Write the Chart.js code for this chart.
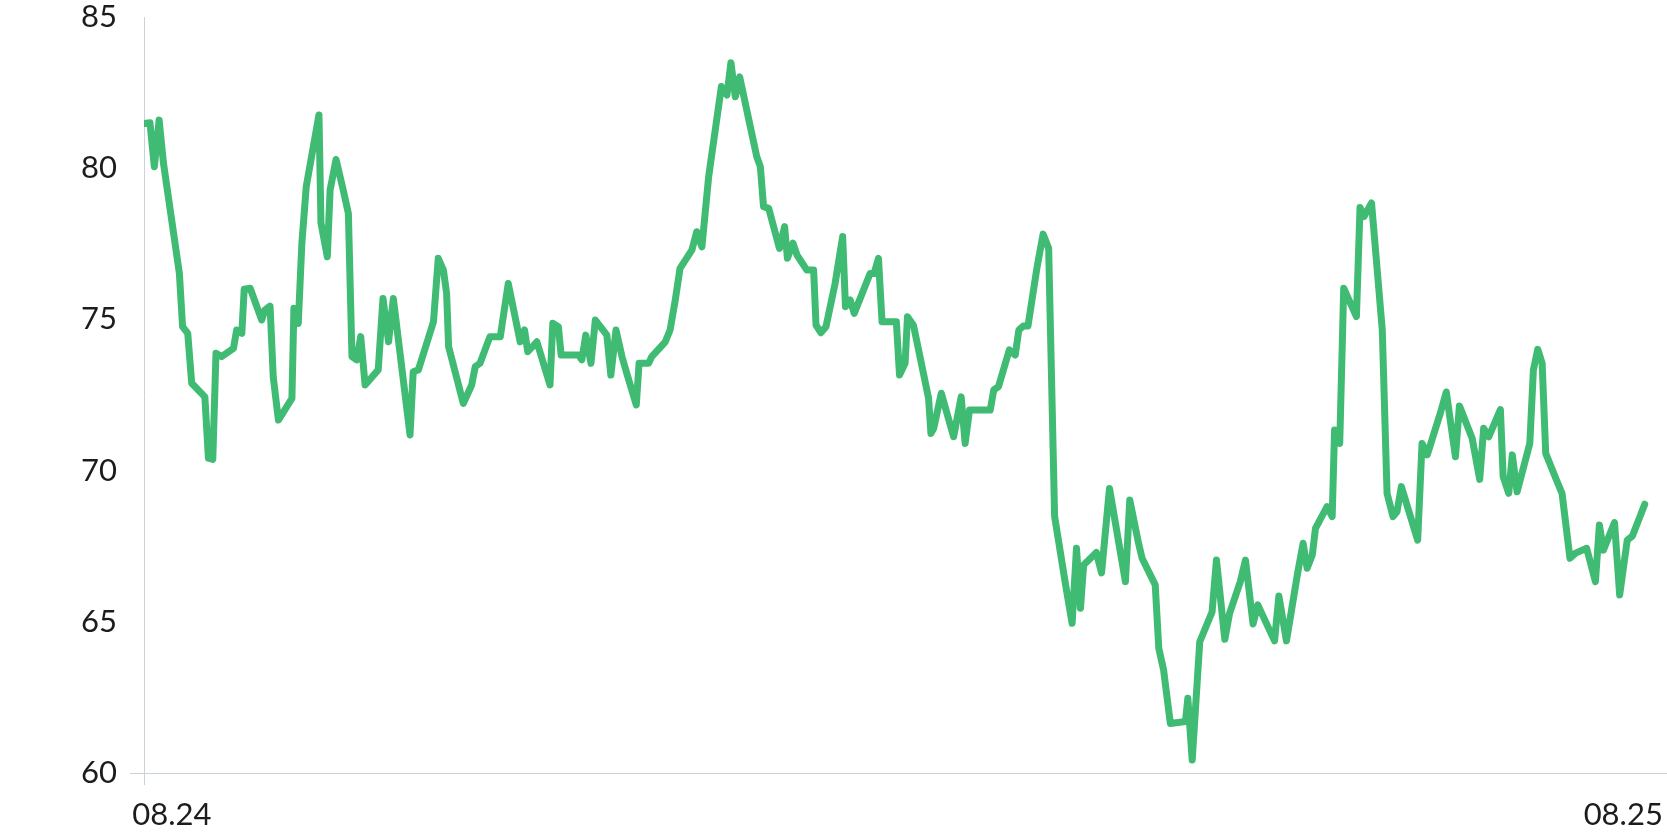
<!DOCTYPE html>
<html lang="en">
<head>
  <meta charset="UTF-8" />
  <title>Price chart</title>
  <script src="https://cdn.jsdelivr.net/npm/chart.js"></script>
  <style>
    body {
      margin: 0;
      padding: 0;
      background: #ffffff;
    }

    .wrap {
      width: 1667px;
      height: 833px;
    }
  </style>
</head>
<body>
  <div class="wrap">
    <canvas id="priceChart"></canvas>
  </div>

  <script>
    // days since start of the series, and the value on that day
    const days = [
      0, 1.5, 2.6, 3.8, 4.9, 8.9, 9.7, 11.0, 12.0, 15.3,
      16.2, 17.3, 18.1, 19.5, 22.5, 23.3, 24.6, 25.2, 26.7, 29.6,
      30.4, 31.7, 32.5, 33.8, 37.2, 37.7, 38.8, 39.7, 40.8, 44.0,
      44.5, 46.1, 46.8, 48.3, 50.1, 51.4, 52.3, 53.5, 54.5, 55.6,
      58.9, 60.1, 61.5, 62.7, 66.9, 67.7, 69.0, 72.8, 74.0, 75.3,
      76.1, 76.6, 80.3, 82.4, 83.3, 84.5, 87.0, 89.6, 91.6, 94.6,
      95.7, 96.5, 98.8, 102.1, 102.8, 104.2, 104.9, 109.3, 110.1, 111.1,
      112.4, 113.5, 116.4, 117.4, 118.7, 120.2, 121.4, 123.8, 124.5, 126.9,
      127.7, 131.1, 132.3, 133.6, 134.8, 137.8, 139.0, 140.3, 142.0, 145.2,
      146.6, 147.6, 148.7, 149.8, 152.3, 154.1, 155.0, 155.8, 157.1, 159.8,
      161.1, 161.8, 163.2, 164.2, 166.7, 168.4, 169.0, 170.2, 171.5, 173.8,
      175.7, 176.4, 177.6, 178.6, 182.6, 183.6, 184.7, 185.6, 189.2, 190.0,
      191.4, 192.0, 193.5, 197.3, 197.9, 198.6, 200.5, 203.6, 205.5, 206.5,
      207.6, 212.8, 213.7, 214.9, 217.6, 219.1, 220.0, 221.1, 222.3, 224.6,
      226.1, 227.5, 229.0, 231.7, 233.4, 234.5, 235.5, 236.3, 239.5, 240.8,
      242.8, 246.8, 247.9, 250.1, 251.0, 254.3, 255.2, 256.4, 258.1, 261.9,
      262.5, 263.6, 265.5, 268.6, 269.7, 271.8, 273.0, 275.7, 277.0, 278.9,
      280.1, 284.3, 285.4, 287.3, 290.1, 291.5, 292.5, 293.8, 294.6, 297.5,
      298.8, 299.4, 300.7, 301.7, 304.9, 305.8, 306.8, 308.7, 311.4, 312.6,
      314.1, 315.1, 316.2, 320.3, 321.4, 322.7, 326.0, 327.5, 329.8, 330.8,
      334.0, 335.9, 336.9, 338.2, 341.1, 341.8, 343.2, 344.1, 345.3, 348.5,
      349.4, 350.5, 351.6, 352.5, 355.2, 356.6, 358.6, 360.0, 362.8, 365.0,
      366.0, 367.0, 369.8, 371.1, 373.0, 374.3, 377.4
    ];

    const values = [
      81.48, 81.50, 80.05, 81.59, 80.16, 76.52, 74.76, 74.54, 72.89, 72.44,
      70.41, 70.37, 73.88, 73.77, 74.04, 74.65, 74.54, 76.00, 76.03, 74.98,
      75.31, 75.44, 73.10, 71.67, 72.39, 75.37, 74.87, 77.52, 79.39, 81.76,
      78.19, 77.07, 79.28, 80.29, 79.28, 78.50, 73.77, 73.66, 74.43, 72.83,
      73.33, 75.69, 74.26, 75.69, 71.18, 73.27, 73.33, 74.92, 77.02, 76.63,
      75.86, 74.10, 72.22, 72.83, 73.44, 73.55, 74.43, 74.43, 76.19, 74.26,
      74.65, 73.93, 74.26, 72.83, 74.87, 74.76, 73.82, 73.82, 73.66, 74.48,
      73.55, 74.98, 74.48, 73.16, 74.65, 73.77, 73.22, 72.17, 73.55, 73.55,
      73.77, 74.26, 74.65, 75.64, 76.69, 77.30, 77.90, 77.40, 79.72, 82.70,
      82.42, 83.49, 82.36, 83.02, 81.48, 80.38, 80.05, 78.73, 78.67, 77.35,
      78.07, 77.02, 77.52, 77.13, 76.63, 76.63, 74.81, 74.56, 74.76, 76.19,
      77.74, 75.42, 75.64, 75.20, 76.52, 76.52, 77.02, 74.92, 74.92, 73.16,
      73.55, 75.09, 74.81, 72.39, 71.23, 71.40, 72.56, 71.12, 72.44, 70.90,
      72.00, 72.00, 72.67, 72.78, 73.99, 73.82, 74.65, 74.78, 74.78, 76.74,
      77.82, 77.35, 68.48, 66.27, 64.95, 67.43, 65.45, 66.88, 67.29, 66.62,
      69.41, 66.33, 69.03, 67.60, 67.10, 66.22, 64.12, 63.41, 61.64, 61.70,
      62.47, 60.43, 64.34, 65.33, 67.04, 64.42, 65.28, 66.33, 67.04, 64.93,
      65.56, 64.37, 65.85, 64.37, 66.60, 67.60, 66.77, 67.21, 68.09, 68.81,
      68.48, 71.34, 70.90, 76.03, 75.09, 78.70, 78.40, 78.85, 74.65, 69.25,
      68.48, 68.64, 69.47, 67.70, 70.90, 70.52, 71.90, 72.60, 70.46, 72.14,
      71.07, 69.71, 71.40, 71.12, 72.02, 69.80, 69.25, 70.52, 69.30, 70.90,
      73.33, 74.01, 73.55, 70.57, 69.69, 69.25, 67.10, 67.27, 67.43, 66.33,
      68.20, 67.37, 68.28, 65.89, 67.70, 67.84, 68.89
    ];

    const tickDays = [0, 7, 372];
    const tickLabels = ['', '08.24', '08.25'];
    const yTicks = [60, 65, 70, 75, 80, 85];

    const axisColor = '#c9d2db';
    const textColor = '#1c1c1c';
    const font = { family: 'Lato', size: 31 };

    const points = days.map((d, i) => ({ x: d, y: values[i] }));

    new Chart(document.getElementById('priceChart'), {
      type: 'line',
      data: {
        datasets: [{
          data: points,
          borderColor: '#40bb74',
          borderWidth: 7,
          borderJoinStyle: 'round',
          borderCapStyle: 'round',
          pointRadius: 0,
          tension: 0,
          fill: false
        }]
      },
      options: {
        responsive: true,
        maintainAspectRatio: false,
        animation: false,
        layout: { padding: { top: 17, right: 0, bottom: 0, left: 0 } },
        plugins: {
          legend: { display: false },
          tooltip: { enabled: false }
        },
        scales: {
          x: {
            type: 'linear',
            min: 0,
            max: 383,
            afterBuildTicks: scale => {
              scale.ticks = tickDays.map(v => ({ value: v }));
            },
            afterFit: scale => {
              scale.height = 60;
              scale.paddingLeft = 0;
              scale.paddingRight = 0;
            },
            ticks: {
              autoSkip: false,
              maxRotation: 0,
              padding: 11,
              color: textColor,
              font: font,
              callback: (value, i) => tickLabels[i]
            },
            grid: {
              drawOnChartArea: false,
              tickLength: 12,
              color: ctx => ctx.index === 0 ? axisColor : 'rgba(0,0,0,0)'
            },
            border: { display: true, color: axisColor }
          },
          y: {
            min: 60,
            max: 85,
            afterBuildTicks: scale => {
              scale.ticks = yTicks.map(v => ({ value: v }));
            },
            afterFit: scale => {
              scale.width = 144;
              scale.paddingTop = 0;
              scale.paddingBottom = 0;
            },
            ticks: {
              padding: 13,
              color: textColor,
              font: font
            },
            grid: {
              drawOnChartArea: false,
              tickLength: 14,
              color: ctx => ctx.tick && ctx.tick.value === 60 ? axisColor : 'rgba(0,0,0,0)'
            },
            border: { display: true, color: axisColor }
          }
        }
      }
    });
  </script>
</body>
</html>
